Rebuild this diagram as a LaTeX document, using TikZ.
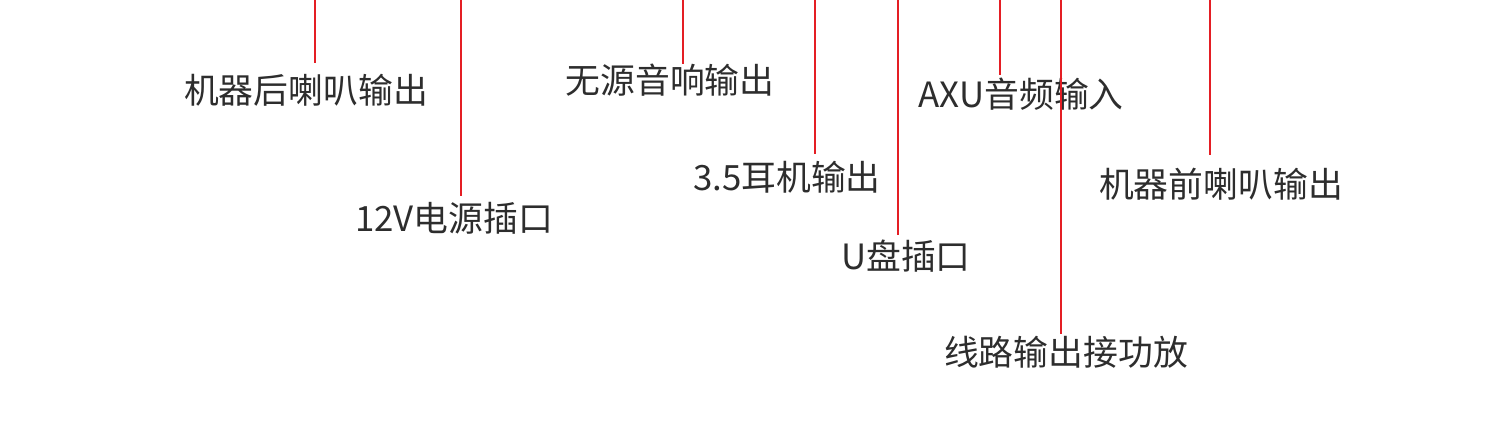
\documentclass[tikz,border=0pt]{standalone}
\usepackage{fontspec}
\setmainfont{Noto Sans CJK SC}
\usepackage{tikz}
\usetikzlibrary{positioning,calc}
\definecolor{leadred}{RGB}{228,30,36}
\definecolor{labelgray}{RGB}{45,45,45}

\begin{document}
\begin{tikzpicture}[x=0.01cm, y=-0.01cm,
    lbl/.style={text=labelgray, inner sep=0pt, font=\fontsize{9.9}{12}\selectfont},
    lead/.style={leadred, line width=0.55pt}]
    \useasboundingbox (0,0) rectangle (1500,440);

    % labels
    \node[lbl] (rearspk) at (306,90)  {机器后喇叭输出};
    \node[lbl] (power)   at (454,218) {12V电源插口};
    \node[lbl] (passive) at (670,80)  {无源音响输出};
    \node[lbl] (phone)   at (787,177) {3.5耳机输出};
    \node[lbl] (udisk)   at (906,256) {U盘插口};
    \node[lbl] (auxin)   at (1021,94) {AXU音频输入};
    \node[lbl] (lineout) at (1066,352) {线路输出接功放};
    \node[lbl] (frontspk) at (1221,184) {机器前喇叭输出};

    % top ends of the leader lines
    \coordinate (t1) at (315,0);
    \coordinate (t2) at (461,0);
    \coordinate (t3) at (683,0);
    \coordinate (t4) at (815,0);
    \coordinate (t5) at (898,0);
    \coordinate (t6) at (1000,0);
    \coordinate (t7) at (1061,0);
    \coordinate (t8) at (1210,0);

    % leader lines
    \draw[lead] (t1) -- ($(rearspk.north -| t1)+(0,-10)$);
    \draw[lead] (t2) -- ($(power.north -| t2)+(0,-5)$);
    \draw[lead] (t3) -- ($(passive.north -| t3)+(0,1)$);
    \draw[lead] (t4) -- ($(phone.north -| t4)+(0,-6)$);
    \draw[lead] (t5) -- ($(udisk.north -| t5)+(0,-4)$);
    \draw[lead] (t6) -- ($(auxin.north -| t6)+(0,-2)$);
    \draw[lead] (t7) -- ($(lineout.north -| t7)+(0,-1)$);
    \draw[lead] (t8) -- ($(frontspk.north -| t8)+(0,-12)$);
\end{tikzpicture}
\end{document}
